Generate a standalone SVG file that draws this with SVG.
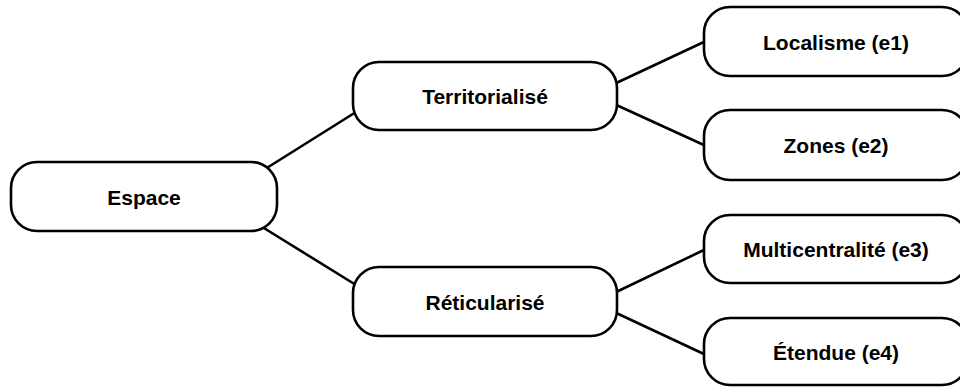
<svg xmlns="http://www.w3.org/2000/svg" width="960" height="387" viewBox="0 0 960 387">
<style>
.box{fill:#fff;stroke:#000;stroke-width:2.6}
.lbl{font-family:"Liberation Sans",Arial,sans-serif;font-weight:bold;font-size:21px;fill:#000;text-anchor:middle;dominant-baseline:central}
.edge{stroke:#000;stroke-width:2.6;fill:none}
</style>
<rect width="960" height="387" fill="#fff"/>
<g id="connectors">
<line class="edge" x1="262" y1="171" x2="356" y2="112"/>
<line class="edge" x1="259" y1="225" x2="356" y2="285"/>
<line class="edge" x1="612" y1="85" x2="706" y2="41"/>
<line class="edge" x1="612" y1="103" x2="706" y2="146"/>
<line class="edge" x1="612" y1="294" x2="706" y2="249"/>
<line class="edge" x1="612" y1="311" x2="706" y2="355"/>
</g>
<g id="espace"><rect class="box" x="11" y="162" width="266" height="69" rx="26"/><text class="lbl" x="144" y="197">Espace</text></g>
<g id="territorialise"><rect class="box" x="353" y="62" width="264" height="68" rx="26"/><text class="lbl" x="485" y="96">Territorialisé</text></g>
<g id="reticularise"><rect class="box" x="353" y="267" width="264" height="69" rx="26"/><text class="lbl" x="485" y="302">Réticularisé</text></g>
<g id="e1"><rect class="box" x="704" y="7" width="264" height="69" rx="26"/><text class="lbl" x="836" y="42">Localisme (e1)</text></g>
<g id="e2"><rect class="box" x="704" y="110" width="264" height="70" rx="26"/><text class="lbl" x="836" y="145">Zones (e2)</text></g>
<g id="e3"><rect class="box" x="704" y="215" width="264" height="68" rx="26"/><text class="lbl" x="836" y="249">Multicentralité (e3)</text></g>
<g id="e4"><rect class="box" x="704" y="318" width="264" height="67" rx="26"/><text class="lbl" x="836" y="352">Étendue (e4)</text></g>
</svg>
